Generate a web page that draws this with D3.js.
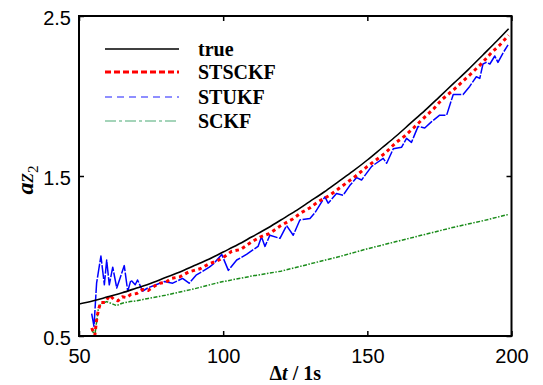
<!DOCTYPE html>
<html>
<head>
<meta charset="utf-8">
<script src="https://cdn.jsdelivr.net/npm/d3@7"></script>
<style>
  html, body { margin: 0; padding: 0; background: #fff; }
  svg { display: block; }
</style>
</head>
<body>
<svg id="chart" width="543" height="385"></svg>
<script>
// ---- Data ----
const seriesNames = ["true", "STSCKF", "STUKF", "SCKF"];
const xTicks = [50, 100, 150, 200];
const yTicks = [0.5, 1.5, 2.5];
const yTickLabels = ["0.5", "1.5", "2.5"];

const trueT = [50,55,60,65,70,75,80,85,90,95,100,105,110,115,120,125,130,135,140,145,150,155,160,165,170,175,180,185,190,195,199];
const trueV = [0.70,0.72,0.745,0.77,0.80,0.83,0.865,0.90,0.94,0.98,1.025,1.07,1.12,1.17,1.225,1.28,1.34,1.40,1.465,1.53,1.60,1.675,1.75,1.83,1.91,1.995,2.08,2.165,2.255,2.345,2.42];

const stsckfT = [54.4,55.5,56.1,56.7,57.5,59,60.7,62,63.5,65,66.5,68,70,72,74,76,78,80,82,85,88,90,92,95,98,100,103,106,110,113,116,120,124,127,130,133,137,140,143,146,150,153,156,160,163,166,170,173,176,180,183,186,190,193,196,199];
const stsckfV = [0.55,0.505,0.60,0.66,0.71,0.71,0.755,0.73,0.72,0.745,0.74,0.76,0.765,0.79,0.785,0.81,0.83,0.835,0.86,0.87,0.90,0.91,0.92,0.95,0.97,0.99,1.03,1.04,1.09,1.12,1.14,1.19,1.23,1.27,1.30,1.34,1.38,1.42,1.46,1.50,1.56,1.60,1.64,1.71,1.75,1.80,1.87,1.92,1.98,2.04,2.09,2.14,2.21,2.27,2.32,2.38];

const stukfT = [54.4,55.2,56.1,57.6,58.8,59.6,60.5,61.7,63.1,65.7,66.9,68.0,69.5,70.3,72.1,73.8,76.7,79.5,82.5,85.9,88.2,90.6,92.5,95.2,96.6,99.5,101.8,104.7,108.1,112.1,113.3,114.5,116.2,119.7,122.0,124.3,126.6,130.1,131.8,135.3,136.4,139.3,141.6,143.9,146.3,148.0,151.5,155.5,156.7,159.0,161.9,163.6,165.3,167.6,169.9,172.3,175.1,177.5,179.8,183.2,185.5,187.8,189.0,190.1,191.3,192.5,194.2,195.3,197.1,198.8];
const stukfV = [0.64,0.56,0.83,1.00,0.82,0.975,0.82,0.93,0.80,0.94,0.78,0.85,0.82,0.85,0.78,0.80,0.82,0.84,0.83,0.86,0.83,0.88,0.90,0.93,0.95,1.01,0.91,0.975,1.01,1.06,1.12,1.06,1.13,1.11,1.19,1.13,1.225,1.235,1.27,1.37,1.33,1.39,1.38,1.44,1.49,1.475,1.56,1.61,1.58,1.67,1.68,1.735,1.71,1.81,1.80,1.84,1.88,1.88,2.01,2.01,2.06,2.12,2.11,2.20,2.21,2.20,2.25,2.21,2.27,2.32];

const sckfT = [54.4,55.5,56.7,57.5,59.6,61,63,65,67.7,70,74,80,85,90,97.5,100,110,120,130,140,150,160,170,180,190,199];
const sckfV = [0.54,0.505,0.67,0.70,0.715,0.705,0.69,0.705,0.715,0.72,0.735,0.755,0.775,0.795,0.83,0.84,0.875,0.905,0.95,0.995,1.045,1.09,1.135,1.18,1.22,1.26];

// ---- Layout ----
const svg = d3.select("#chart");
const L = 79, R = 511.5, T = 16, B = 336;
const x = d3.scaleLinear().domain([50, 200]).range([L, R]);
const y = d3.scaleLinear().domain([0.5, 2.5]).range([B, T]);

const zip = (ts, vs) => ts.map((t, i) => [t, vs[i]]);

const styles = [
  { name: seriesNames[0], data: zip(trueT, trueV), color: "#000", width: 1.6, dash: null, curve: d3.curveMonotoneX,
    lColor: "#000", lWidth: 1.6, lDash: null },
  { name: seriesNames[1], data: zip(stsckfT, stsckfV), color: "#ff0000", width: 3, dash: "3.5,3.5", curve: d3.curveLinear,
    lColor: "#ff0000", lWidth: 3, lDash: "6,3" },
  { name: seriesNames[2], data: zip(stukfT, stukfV), color: "#0000ff", width: 1.5, dash: "14,1.5", curve: d3.curveLinear,
    lColor: "#6a6aff", lWidth: 1.4, lDash: "7,5" },
  { name: seriesNames[3], data: zip(sckfT, sckfV), color: "#1a8c1a", width: 1.5, dash: "4,1.5,1.5,1.5", curve: d3.curveLinear,
    lColor: "#86c6a2", lWidth: 1.6, lDash: "11,3,3,3" }
];

svg.append("defs").append("clipPath").attr("id", "clip")
  .append("rect").attr("x", L).attr("y", T).attr("width", R - L).attr("height", B - T);

const plot = svg.append("g").attr("clip-path", "url(#clip)");
// draw order: SCKF, STUKF, STSCKF, true (true on top)
[3, 2, 1, 0].forEach(i => {
  const s = styles[i];
  const line = d3.line().x(d => x(d[0])).y(d => y(d[1])).curve(s.curve);
  plot.append("path").datum(s.data)
    .attr("d", line)
    .attr("fill", "none")
    .attr("stroke", s.color)
    .attr("stroke-width", s.width)
    .attr("stroke-linejoin", "round")
    .attr("stroke-dasharray", s.dash);
});

// ---- Axes ----
const tickFont = "'Liberation Sans', Arial, sans-serif";
const gx = svg.append("g").attr("transform", `translate(0,${B})`)
  .call(d3.axisBottom(x).tickValues(xTicks).tickFormat(d3.format("d")).tickSizeInner(-5).tickSizeOuter(0).tickPadding(13));
const gy = svg.append("g").attr("transform", `translate(${L},0)`)
  .call(d3.axisLeft(y).tickValues(yTicks).tickFormat((d, i) => yTickLabels[i]).tickSizeInner(-5).tickSizeOuter(0).tickPadding(8));
const gt = svg.append("g").attr("transform", `translate(0,${T})`)
  .call(d3.axisTop(x).tickValues(xTicks).tickFormat("").tickSizeInner(-5).tickSizeOuter(0));
const gr = svg.append("g").attr("transform", `translate(${R},0)`)
  .call(d3.axisRight(y).tickValues(yTicks).tickFormat("").tickSizeInner(-5).tickSizeOuter(0));

[gx, gy, gt, gr].forEach(g => {
  g.select(".domain").remove();
  g.selectAll(".tick line").attr("stroke", "#000").attr("stroke-width", 1.5);
  g.selectAll(".tick text").attr("fill", "#000").style("font-family", tickFont).style("font-size", "20px");
});
gy.selectAll(".tick text").attr("dy", "0.42em");

svg.append("rect").attr("x", L).attr("y", T).attr("width", R - L).attr("height", B - T)
  .attr("fill", "none").attr("stroke", "#000").attr("stroke-width", 2);

// ---- Axis titles ----
const serif = "'Liberation Serif', 'Times New Roman', serif";
const xt = svg.append("text").attr("x", (L + R) / 2).attr("y", 380)
  .attr("text-anchor", "middle").style("font-family", serif).style("font-size", "20px").style("font-weight", "bold");
xt.append("tspan").text("Δ");
xt.append("tspan").style("font-style", "italic").text("t");
xt.append("tspan").text(" / 1s");

const yt = svg.append("text").attr("transform", "translate(33,180) rotate(-90)")
  .attr("text-anchor", "middle").style("font-family", serif).style("font-size", "24px").style("font-style", "italic");
yt.append("tspan").style("font-weight", "bold").text("a");
yt.append("tspan").text("z");
yt.append("tspan").attr("dy", 5).style("font-size", "15px").style("font-style", "normal").text("2");

// ---- Legend ----
const legY = [49, 72, 97, 121];
styles.forEach((s, i) => {
  svg.append("line").attr("x1", 105).attr("x2", 179).attr("y1", legY[i]).attr("y2", legY[i])
    .attr("stroke", s.lColor).attr("stroke-width", s.lWidth).attr("stroke-dasharray", s.lDash);
  svg.append("text").attr("x", 198).attr("y", legY[i] + 7)
    .style("font-family", serif).style("font-size", "20px").style("font-weight", "bold")
    .attr("fill", "#000").text(s.name);
});
</script>
</body>
</html>
